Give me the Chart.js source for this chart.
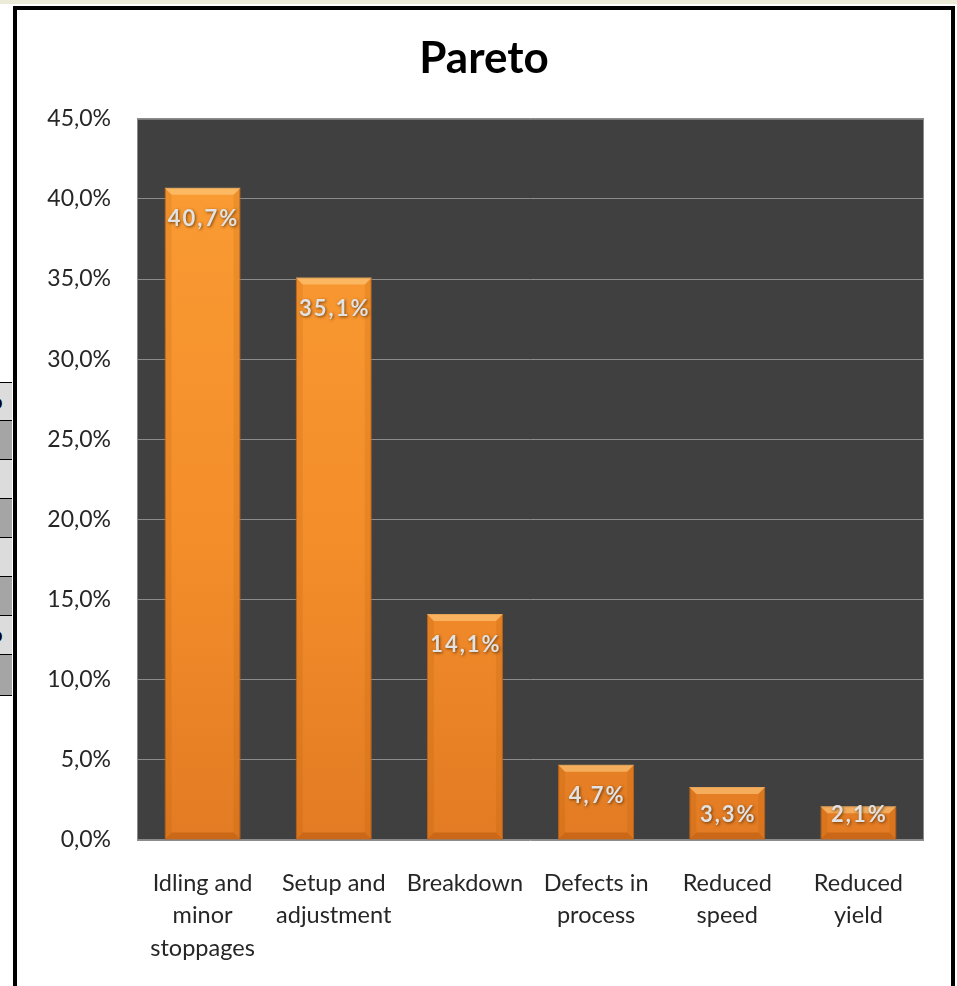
<!DOCTYPE html>
<html>
<head>
<meta charset="utf-8">
<script src="https://cdn.jsdelivr.net/npm/chart.js@4.4.0/dist/chart.umd.min.js"></script>
<style>
  body { margin: 0; background: #fff; width: 957px; height: 986px; overflow: hidden; position: relative; font-family: Lato, sans-serif; }
  .strip { position: absolute; left: 0; top: 0; width: 957px; height: 4px; background: #ecebd8; }
  .cell { position: absolute; left: 0; width: 12px; border-top: 1px solid #000; overflow: hidden; font-weight: bold; font-size: 20px; line-height: 36px; }
  .box { position: absolute; left: 13px; top: 6px; width: 934px; height: 990px; border: 4px solid #000; background: #fff; }
  canvas { position: absolute; left: 0; top: 0; }
</style>
</head>
<body>
<div class="strip"></div>
<div id="cells"></div>
<div class="box"><canvas id="myChart" width="934" height="976"></canvas></div>
<script>
// data
const categories = [
  ['Idling and', 'minor', 'stoppages'],
  ['Setup and', 'adjustment'],
  'Breakdown',
  ['Defects in', 'process'],
  ['Reduced', 'speed'],
  ['Reduced', 'yield']
];
const shares = [40.7, 35.1, 14.1, 4.7, 3.3, 2.1];
const yTicks = [0, 5, 10, 15, 20, 25, 30, 35, 40, 45];

// bits of the spreadsheet table peeking out on the left
const rowEdges = [382, 420, 459, 498, 537, 576, 615, 654, 695];
const cells = document.getElementById('cells');
for (let i = 0; i < rowEdges.length - 1; i++) {
  const d = document.createElement('div');
  d.className = 'cell';
  d.style.top = rowEdges[i] + 'px';
  d.style.height = (rowEdges[i + 1] - rowEdges[i] - 1) + 'px';
  d.style.background = i % 2 == 0 ? '#dcdcdc' : '#a5a5a5';
  if (i == 0 || i == 6) d.innerHTML = '<span style="margin-left:-9px">o</span>';
  cells.appendChild(d);
}
const last = document.createElement('div');
last.className = 'cell';
last.style.top = rowEdges[rowEdges.length - 1] + 'px';
last.style.height = '0px';
cells.appendChild(last);

const fmt = (v) => v.toFixed(1).replace('.', ',') + '%';

const plotBg = {
  id: 'plotBg',
  beforeDraw(chart) {
    const a = chart.chartArea, c = chart.ctx;
    c.save();
    c.fillStyle = '#404040';
    c.fillRect(a.left, a.top, a.right - a.left, a.bottom - a.top);
    c.strokeStyle = '#8a8a8a';
    c.lineWidth = 1;
    c.strokeRect(a.left + 0.5, a.top + 0.5, a.right - a.left - 1, a.bottom - a.top - 1);
    c.restore();
  }
};

// bevel on the bars + value labels
const bevel = {
  id: 'bevel',
  afterDatasetsDraw(chart) {
    const c = chart.ctx;
    const meta = chart.getDatasetMeta(0);
    c.save();
    meta.data.forEach((bar, i) => {
      const p = bar.getProps(['x', 'y', 'base', 'width'], true);
      const l = p.x - p.width / 2, r = p.x + p.width / 2, t = p.y, b = p.base;
      const e = 7;
      c.fillStyle = 'rgba(255,205,130,0.6)';
      c.beginPath();
      c.moveTo(l, t); c.lineTo(r, t); c.lineTo(r - e, t + e); c.lineTo(l + e, t + e); c.closePath();
      c.fill();
      c.fillStyle = 'rgba(170,80,0,0.15)';
      c.beginPath();
      c.moveTo(l, t); c.lineTo(l + e, t + e); c.lineTo(l + e, b - e); c.lineTo(l, b); c.closePath();
      c.fill();
      c.beginPath();
      c.moveTo(r, t); c.lineTo(r - e, t + e); c.lineTo(r - e, b - e); c.lineTo(r, b); c.closePath();
      c.fill();
      c.fillStyle = 'rgba(150,60,0,0.3)';
      c.beginPath();
      c.moveTo(l, b); c.lineTo(l + e, b - e); c.lineTo(r - e, b - e); c.lineTo(r, b); c.closePath();
      c.fill();

      const ly = Math.min(t + 31, b - 25);
      c.font = 'bold 22px Lato';
      c.letterSpacing = '2px';
      c.textAlign = 'center';
      c.textBaseline = 'middle';
      c.shadowColor = 'rgba(60,30,0,0.7)';
      c.shadowBlur = 3;
      c.shadowOffsetX = 1;
      c.shadowOffsetY = 1;
      c.fillStyle = '#e2e2e2';
      c.fillText(fmt(shares[i]), p.x + 1, ly);
      c.shadowColor = 'transparent';
    });
    c.restore();
  }
};

const ctx = document.getElementById('myChart');
const chart = new Chart(ctx, {
  type: 'bar',
  data: {
    labels: categories,
    datasets: [{
      data: shares,
      backgroundColor: (context) => {
        const a = context.chart.chartArea;
        if (!a) return '#f7932b';
        const g = context.chart.ctx.createLinearGradient(0, a.top, 0, a.bottom);
        g.addColorStop(0, '#fb9d34');
        g.addColorStop(0.6, '#f38d2a');
        g.addColorStop(1, '#e27b23');
        return g;
      },
      borderColor: '#c2641b',
      borderWidth: 1,
      categoryPercentage: 1,
      barPercentage: 0.58
    }]
  },
  options: {
    responsive: false,
    animation: false,
    layout: { padding: 0 },
    plugins: {
      legend: { display: false },
      tooltip: { enabled: false },
      title: {
        display: true,
        text: 'Pareto',
        color: '#000',
        font: { family: 'Lato', size: 44, weight: 'bold' },
        padding: { top: 22, bottom: 34 }
      }
    },
    scales: {
      x: {
        grid: { display: false, drawTicks: false },
        border: { display: false },
        ticks: {
          color: '#262626',
          font: { family: 'Lato', size: 23.5, lineHeight: 1.38 },
          padding: 27,
          maxRotation: 0,
          autoSkip: false
        },
        afterFit: (s) => { s.height = 146; }
      },
      y: {
        min: 0,
        max: 45,
        afterBuildTicks: (s) => { s.ticks = yTicks.map(v => ({ value: v })); },
        grid: { color: '#8c8c8c', lineWidth: 1, drawTicks: false },
        border: { display: false },
        ticks: {
          color: '#262626',
          font: { family: 'Lato', size: 23 },
          padding: 26,
          callback: (v) => fmt(v)
        },
        afterFit: (s) => { s.width = 120; }
      },
      // empty right-hand axis that only reserves the white margin
      yRight: {
        position: 'right',
        display: true,
        grid: { display: false, drawTicks: false },
        border: { display: false },
        ticks: { display: false },
        afterFit: (s) => { s.width = 27; }
      }
    }
  },
  plugins: [plotBg, bevel]
});
</script>
</body>
</html>
